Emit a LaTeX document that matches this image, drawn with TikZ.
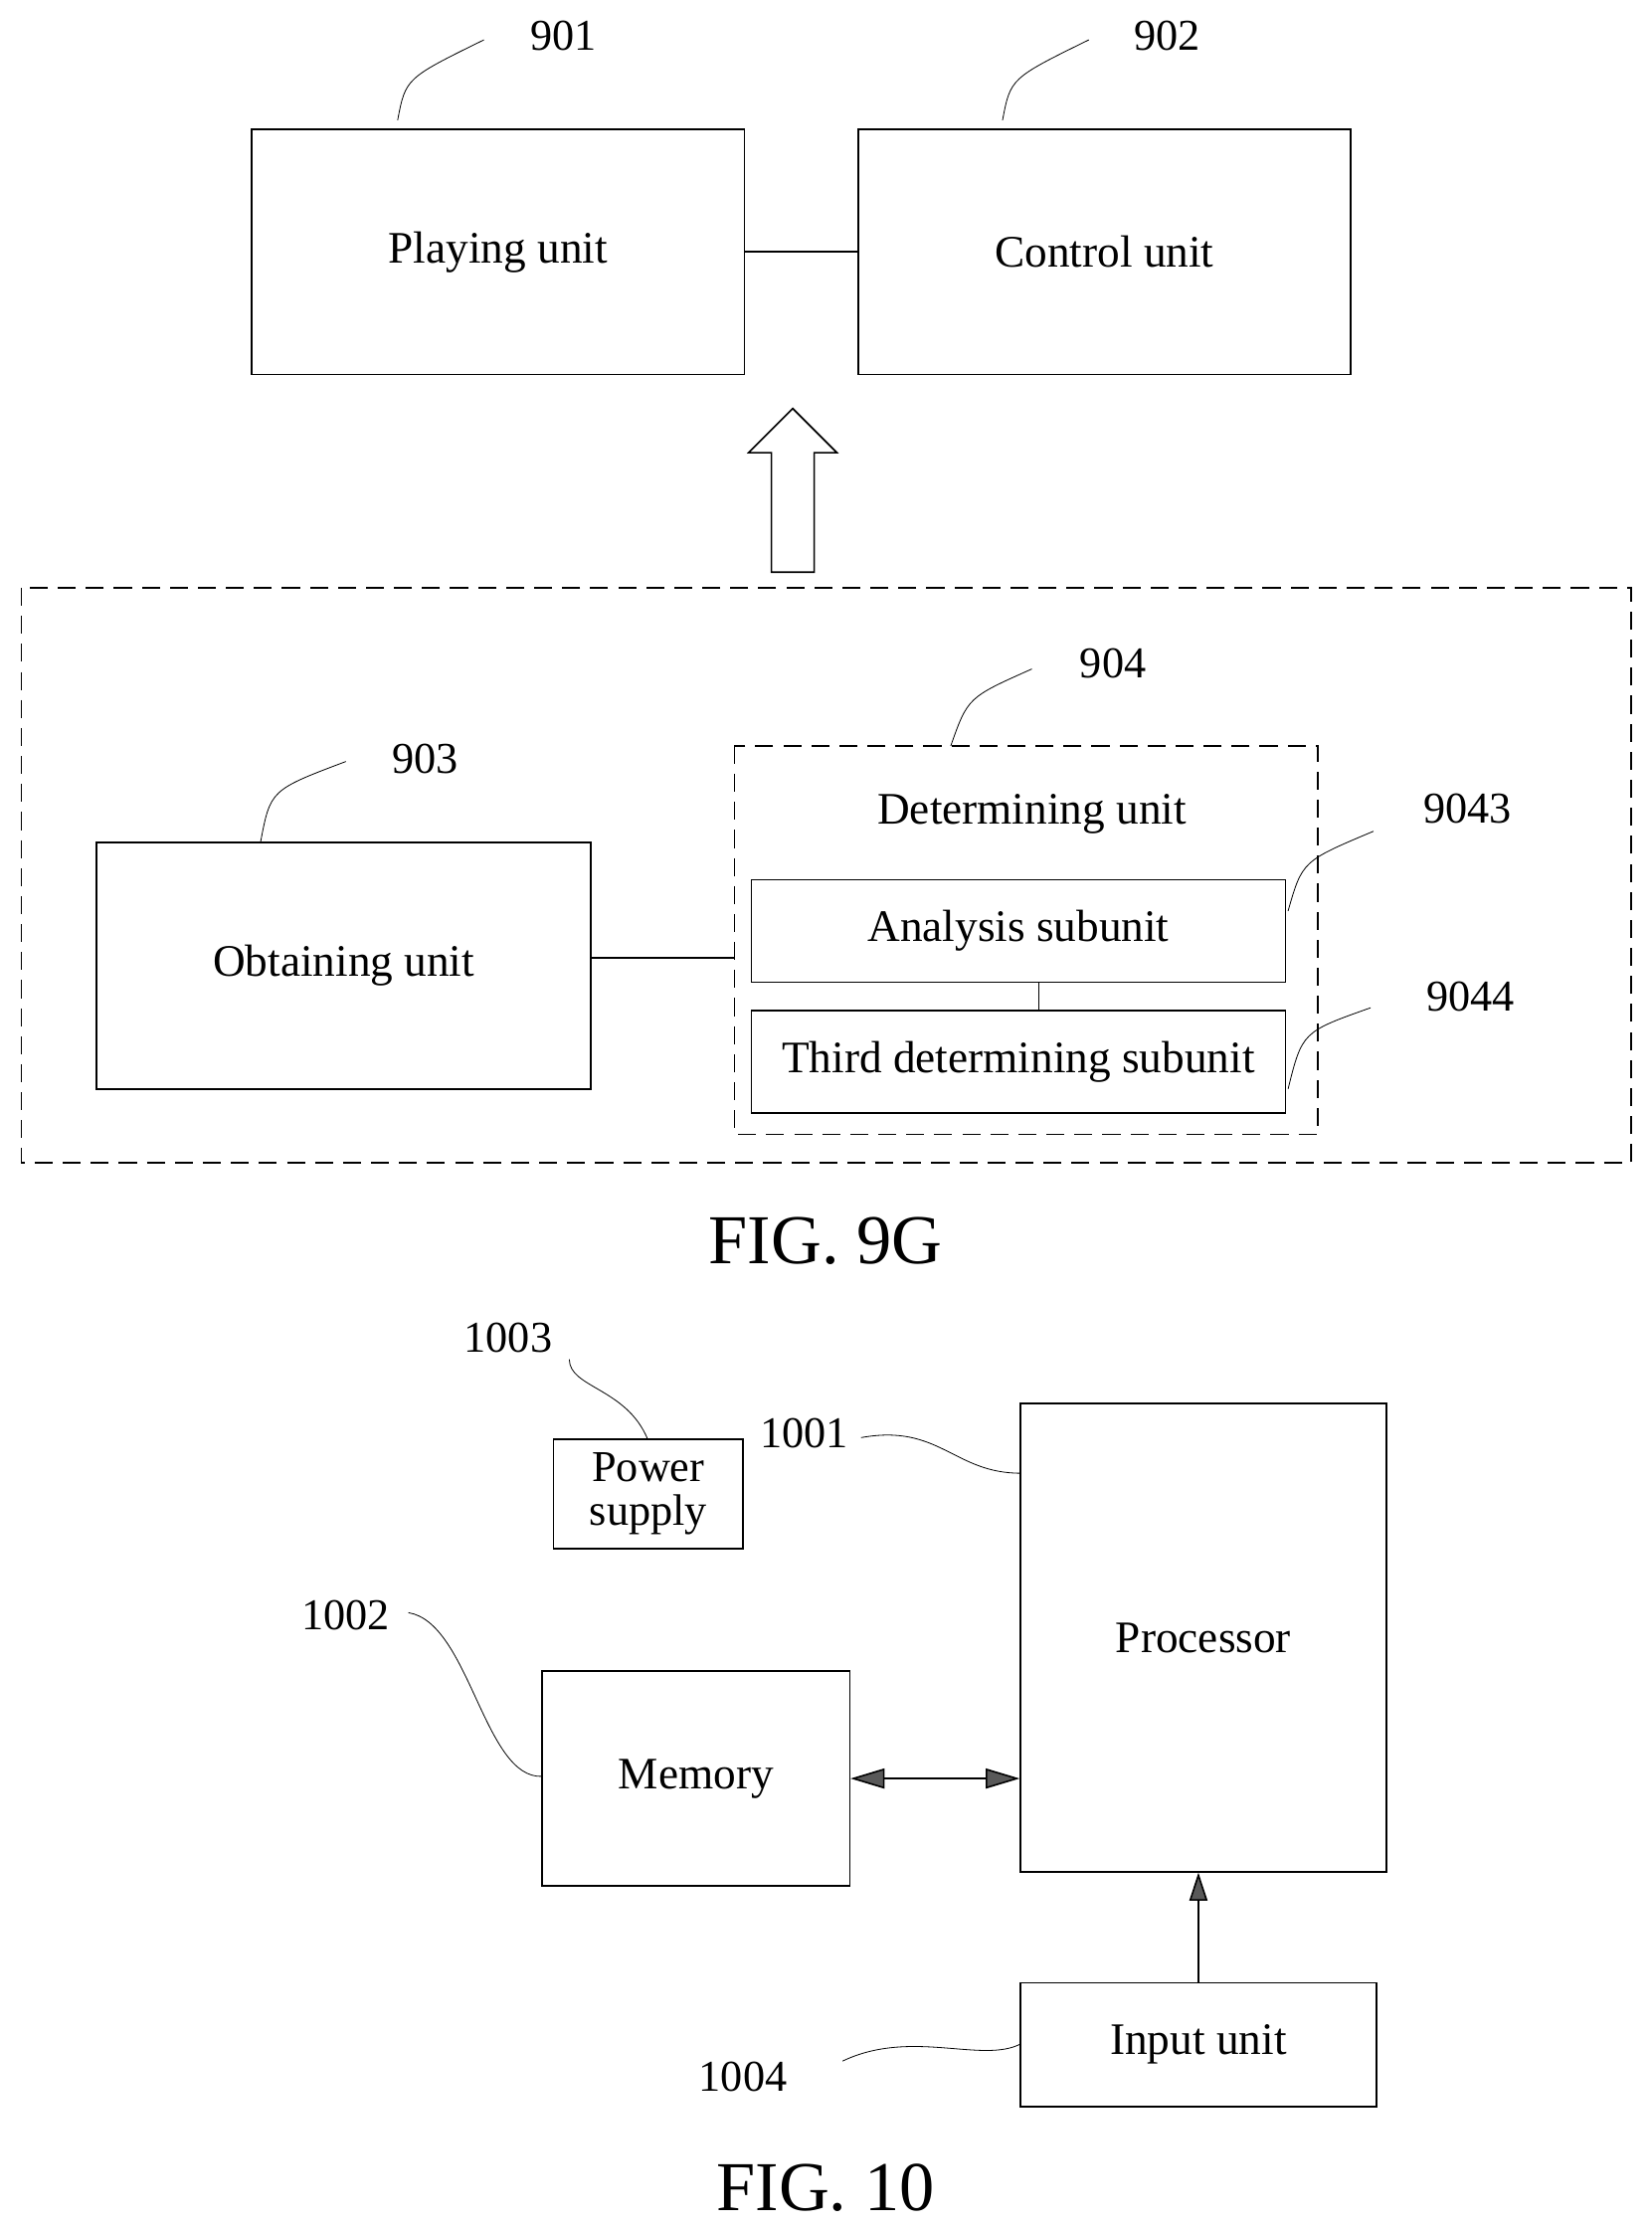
\documentclass[tikz,border=0pt]{standalone}
\usepackage{fontspec}
\setmainfont{Liberation Serif}
\usetikzlibrary{arrows.meta}
\begin{document}
\begin{tikzpicture}[x=0.025cm,y=-0.025cm]
\tikzstyle{box}=[draw, thick, inner sep=0pt, align=center, font=\fontsize{22.5}{25}\selectfont]
\tikzstyle{num}=[font=\fontsize{22}{24}\selectfont]
\tikzstyle{fig}=[font=\fontsize{35}{38}\selectfont]
\tikzstyle{lead}=[thin]
  \useasboundingbox (0,0) rectangle (1160,1566);

  % FIG. 9G
  \node[box, minimum width=8.65cm, minimum height=4.3cm] (play) at (350,177) {Playing unit};
  \node[box, minimum width=8.65cm, minimum height=4.3cm] (ctrl) at (776,177) {Control unit};
  \draw[thick] (play) -- (ctrl);
  \node[num] (n901) at (396,25) {901};
  \node[num] (n902) at (820,25) {902};
  \draw[lead] (play.north west) ++(103,-6) .. controls (285,55) .. (340,28);
  \draw[lead] (ctrl.north west) ++(102,-6) .. controls (710,55) .. (765,28);

  \draw[thick] (542,402) -- (542,318) -- (526,318) -- (557,287) -- (588,318)
    -- (572,318) -- (572,402) -- cycle;

  \draw[thick, dash pattern=on 9pt off 5pt] (15,413) rectangle (1146,817);
  \node[box, minimum width=8.675cm, minimum height=4.325cm] (obt) at (241.5,678.5) {Obtaining unit};
  \draw[thick, dash pattern=on 9pt off 5pt] (516,524) rectangle (926,797);
  \coordinate (det) at (516,673);
  \node[num, font=\fontsize{22.5}{25}\selectfont] (detl) at (725,572) {Determining unit};
  \node[box, minimum width=9.375cm, minimum height=1.8cm] (ana) at (715.5,654) {Analysis subunit};
  \node[box, minimum width=9.375cm, minimum height=1.8cm] (third) at (715.5,746) {Third determining subunit};
  \draw[thick] (obt.east |- det) -- (det);
  \draw[thick] (730,690) -- (730,710);
  \node[num] (n903) at (299,533) {903};
  \node[num] (n904) at (782,466) {904};
  \node[num] (n9043) at (1031,568) {9043};
  \node[num] (n9044) at (1033,700) {9044};
  \draw[lead] (183,592) .. controls (190,555) .. (243,535);
  \draw[lead] (668,524) .. controls (680,490) .. (725,470);
  \draw[lead] (905,640) .. controls (915,605) .. (965,584);
  \draw[lead] (905,765) .. controls (915,725) .. (963,708);
  \node[fig] (fig9) at (580,872) {FIG. 9G};

  % FIG. 10
  \node[box, minimum width=3.325cm, minimum height=1.925cm, font=\fontsize{22}{22}\selectfont] (pow) at (455.5,1049.5) {Power\\supply};
  \node[box, minimum width=6.425cm, minimum height=8.225cm] (proc) at (845.5,1150.5) {Processor};
  \node[box, minimum width=5.4cm, minimum height=3.775cm] (mem) at (489,1249.5) {Memory};
  \node[box, minimum width=6.25cm, minimum height=2.175cm] (inp) at (842,1436.5) {Input unit};
  \draw[thick, {Triangle[fill=gray!70!black,length=17pt,width=10pt]}-{Triangle[fill=gray!70!black,length=17pt,width=10pt]}] (mem.east) -- (mem.east -| proc.west);
  \draw[thick, -{Triangle[fill=gray!70!black,length=14pt,width=9pt]}] (inp) -- (inp |- proc.south);
  \node[num] (n1003) at (357,940) {1003};
  \node[num] (n1001) at (565,1007) {1001};
  \node[num] (n1002) at (243,1135) {1002};
  \node[num] (n1004) at (522,1459) {1004};
  \draw[lead] (400,955) .. controls (400,975) and (440,975) .. (455,1011);
  \draw[lead] (605,1010) .. controls (660,1000) and (670,1035) .. (717,1035);
  \draw[lead] (287,1133) .. controls (330,1140) and (340,1250) .. (381,1248);
  \draw[lead] (592,1448) .. controls (640,1425) and (690,1450) .. (717,1436);
  \node[fig] (fig10) at (580,1537) {FIG. 10};
\end{tikzpicture}
\end{document}
